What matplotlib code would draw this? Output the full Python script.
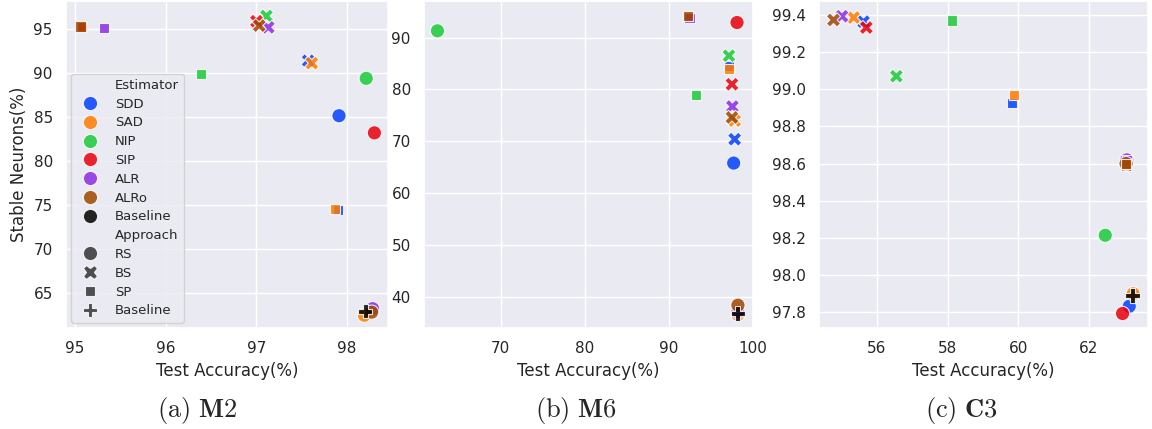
import matplotlib
matplotlib.use("Agg")
import matplotlib.pyplot as plt
import pandas as pd
import seaborn as sns
from matplotlib.ticker import MultipleLocator

# ---------------- data ----------------
estimators = ["SDD", "SAD", "NIP", "SIP", "ALR", "ALRo"]
approaches = ["RS", "BS", "SP"]

# rows: RS, BS, SP ; columns: SDD, SAD, NIP, SIP, ALR, ALRo
m2_acc = [
    [97.91, 98.19, 98.21, 98.30, 98.28, 98.27],
    [97.57, 97.61, 97.11, 97.00, 97.13, 97.03],
    [97.90, 97.87, 96.39, 95.08, 95.32, 95.06],
]
m2_stable = [
    [85.15, 62.45, 89.40, 83.20, 63.20, 62.80],
    [91.40, 91.13, 96.50, 95.90, 95.20, 95.40],
    [74.40, 74.50, 89.90, 95.20, 95.15, 95.30],
]
m2_base = [98.20, 62.90]

m6_acc = [
    [97.70, 98.20, 62.50, 98.10, 98.20, 98.21],
    [97.82, 97.82, 97.14, 97.50, 97.55, 97.50],
    [97.20, 97.20, 93.26, 92.30, 92.45, 92.26],
]
m6_stable = [
    [65.80, 36.60, 91.30, 92.90, 37.10, 38.40],
    [70.40, 73.98, 86.50, 81.00, 76.70, 74.60],
    [84.60, 83.90, 78.85, 94.00, 93.85, 94.15],
]
m6_base = [98.20, 36.80]

c3_acc = [
    [63.14, 63.25, 62.46, 62.95, 63.07, 63.05],
    [55.62, 55.34, 56.55, 55.70, 55.01, 54.77],
    [59.81, 59.89, 58.12, 63.05, 63.07, 63.05],
]
c3_stable = [
    [97.832, 97.899, 98.214, 97.793, 98.620, 98.600],
    [99.364, 99.386, 99.070, 99.332, 99.393, 99.373],
    [98.925, 98.970, 99.370, 98.585, 98.620, 98.600],
]
c3_base = [63.23, 97.890]

captions = [r"$\mathrm{(a)}\ \mathbf{M2}$", r"$\mathrm{(b)}\ \mathbf{M6}$", r"$\mathrm{(c)}\ \mathbf{C3}$"]

# ---------------- style ----------------
sns.set_theme(style="darkgrid", context="notebook")
plt.rcParams["mathtext.fontset"] = "cm"

colors = sns.color_palette("bright", 6)
palette = {e: c for e, c in zip(estimators, colors)}
palette["Baseline"] = "black"
hue_order = estimators + ["Baseline"]
style_order = approaches + ["Baseline"]


def build(acc, stable, base):
    rows = []
    for i, est in enumerate(estimators):
        for j, app in enumerate(approaches):
            rows.append({"Estimator": est, "Approach": app,
                         "acc": acc[j][i], "stable": stable[j][i]})
    rows.append({"Estimator": "Baseline", "Approach": "Baseline",
                 "acc": base[0], "stable": base[1]})
    return pd.DataFrame(rows)


fig = plt.figure(figsize=(11.52, 4.29), dpi=100)
W, H = 1152, 429
bottom = 1 - 328 / H
height = 327 / H
ax_a = fig.add_axes([66 / W, bottom, 322 / W, height])
ax_b = fig.add_axes([424 / W, bottom, 329 / W, height])
ax_c = fig.add_axes([819 / W, bottom, 329 / W, height])

panels = [
    (ax_a, build(m2_acc, m2_stable, m2_base), True),
    (ax_b, build(m6_acc, m6_stable, m6_base), False),
    (ax_c, build(c3_acc, c3_stable, c3_base), False),
]

for ax, df, leg in panels:
    sns.scatterplot(data=df, x="acc", y="stable", hue="Estimator", style="Approach",
                    hue_order=hue_order, style_order=style_order, palette=palette,
                    markers=True, s=105, alpha=0.85, ax=ax, legend=leg)
    ax.set_xlabel("Test Accuracy(%)", fontsize=12)
    ax.set_ylabel("")
    ax.tick_params(labelsize=11)

ax_a.set_ylabel("Stable Neurons(%)", fontsize=12)
ax_a.set_xlim(94.9, 98.45)
ax_a.set_ylim(61.0, 98.2)
ax_a.xaxis.set_major_locator(MultipleLocator(1))
ax_a.yaxis.set_major_locator(MultipleLocator(5))

ax_b.set_xlim(60.9, 100.0)
ax_b.set_ylim(34.0, 97.05)
ax_b.xaxis.set_major_locator(MultipleLocator(10))
ax_b.yaxis.set_major_locator(MultipleLocator(10))

ax_c.set_xlim(54.36, 63.67)
ax_c.set_ylim(97.715, 99.475)
ax_c.xaxis.set_major_locator(MultipleLocator(2))
ax_c.yaxis.set_major_locator(MultipleLocator(0.2))

sns.move_legend(ax_a, "lower left", fontsize=9.5, labelspacing=0.44,
                borderaxespad=0.4, handletextpad=0.9, frameon=True)

for x, cap in zip([197, 576, 962], captions):
    fig.text(x / W, 1 - 410 / H, cap, ha="center", va="center", fontsize=19)

fig.savefig("out.png", dpi=100)
